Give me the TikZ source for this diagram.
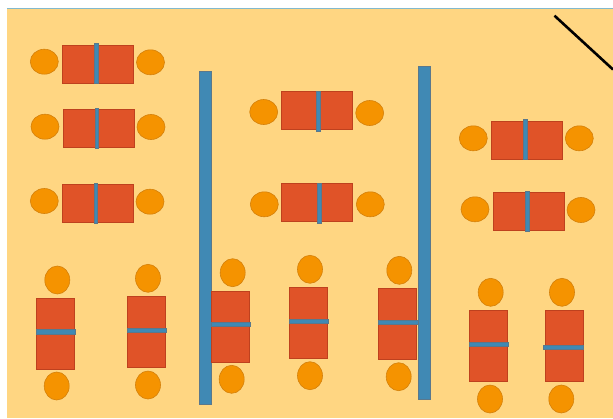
\documentclass[tikz,border=0pt]{standalone}
\usetikzlibrary{shapes.geometric}
\definecolor{bgc}{RGB}{255,214,130}
\definecolor{tablefill}{RGB}{224,83,40}
\definecolor{tableedge}{RGB}{190,65,30}
\definecolor{chairfill}{RGB}{245,147,0}
\definecolor{chairedge}{RGB}{212,128,10}
\definecolor{barfill}{RGB}{64,137,180}
\definecolor{baredge}{RGB}{90,120,140}
\definecolor{topline}{RGB}{130,185,205}
\tikzset{
  tablebox/.style={rectangle, fill=tablefill, draw=tableedge, line width=0.6pt, inner sep=0pt, outer sep=0pt},
  htab/.style={tablebox, minimum width=71pt, minimum height=38pt},
  vtab/.style={tablebox, minimum width=38pt, minimum height=71pt},
  chair/.style={ellipse, fill=chairfill, draw=chairedge, line width=0.6pt, inner sep=0pt, outer sep=0pt},
  hchair/.style={chair, minimum width=28pt, minimum height=25pt},
  vchair/.style={chair, minimum width=25pt, minimum height=28pt},
  divbar/.style={rectangle, fill=barfill, draw=baredge, line width=0.4pt, inner sep=0pt, outer sep=0pt},
  hdiv/.style={divbar, minimum width=3.6pt, minimum height=40pt},
  vdiv/.style={divbar, minimum width=39.5pt, minimum height=4.2pt},
  wallbar/.style={divbar, minimum width=12pt},
}
\begin{document}
\begin{tikzpicture}[x=1pt,y=-1pt]
\useasboundingbox (0,0) rectangle (613,418);
\fill[white] (0,0) rectangle (613,418);
\fill[bgc] (7,8) rectangle (613,418);
\draw[topline, line width=1pt] (7,8.5) -- (613,8.5);
% horizontal tables, left column
\node[htab] (t1) at (97.8,64.2) {};
\node[hdiv] (d1) at (96,63.3) {};
\node[hchair] (c1l) at (44.3,61.7) {};
\node[hchair] (c1r) at (150.5,62.3) {};
\node[htab] (t2) at (98.7,128.5) {};
\node[hdiv] (d2) at (96.5,127.9) {};
\node[hchair] (c2l) at (45,126.7) {};
\node[hchair] (c2r) at (151,127) {};
\node[htab] (t3) at (97.8,203.5) {};
\node[hdiv] (d3) at (95.7,202.7) {};
\node[hchair] (c3l) at (44.3,201) {};
\node[hchair] (c3r) at (150,201.7) {};
% middle column
\node[htab] (t4) at (316.3,110.3) {};
\node[hdiv] (d4) at (318,111.3) {};
\node[hchair] (c4l) at (263.7,112) {};
\node[hchair] (c4r) at (369.7,113) {};
\node[htab] (t5) at (317,202.7) {};
\node[hdiv] (d5) at (319,202.8) {};
\node[hchair] (c5l) at (264.3,204.3) {};
\node[hchair] (c5r) at (370.3,204.3) {};
% right column
\node[htab] (t6) at (526.7,140.2) {};
\node[hdiv] (d6) at (525.2,139.5) {};
\node[hchair] (c6l) at (473.3,138.3) {};
\node[hchair] (c6r) at (579.3,138.3) {};
\node[htab] (t7) at (528.3,211.5) {};
\node[hdiv] (d7) at (527.2,211) {};
\node[hchair] (c7l) at (475,209.3) {};
\node[hchair] (c7r) at (581,210) {};
% walls
\node[wallbar, minimum height=332.4pt] (w1) at (204.7,237.5) {};
\node[wallbar, minimum height=333pt] (w2) at (424,232.5) {};
% vertical tables, bottom row
\node[vtab] (v1) at (55.2,333.8) {};
\node[vdiv] (e1) at (55.8,331.7) {};
\node[vchair] (b1t) at (57.3,280) {};
\node[vchair] (b1b) at (56.7,386) {};
\node[vtab] (v2) at (146.3,332.2) {};
\node[vdiv] (e2) at (146.8,330.2) {};
\node[vchair] (b2t) at (148,278.3) {};
\node[vchair] (b2b) at (148,385) {};
\node[vtab] (v3) at (230.2,326.3) {};
\node[vdiv] (e3) at (230.8,324.5) {};
\node[vchair] (b3t) at (232.7,272.7) {};
\node[vchair] (b3b) at (231.7,379.3) {};
\node[vtab] (v4) at (308.3,323) {};
\node[vdiv] (e4) at (308.5,321.3) {};
\node[vchair] (b4t) at (310,269.3) {};
\node[vchair] (b4b) at (310,375.7) {};
\node[vtab] (v5) at (397,323.8) {};
\node[vdiv] (e5) at (398,322.2) {};
\node[vchair] (b5t) at (399.3,270.3) {};
\node[vchair] (b5b) at (398.7,376.7) {};
\node[vtab] (v6) at (488.3,346.2) {};
\node[vdiv] (e6) at (488.8,344.2) {};
\node[vchair] (b6t) at (490.7,292.3) {};
\node[vchair] (b6b) at (490,399) {};
\node[vtab] (v7) at (563.8,345.3) {};
\node[vdiv] (e7) at (563,347.3) {};
\node[vchair] (b7t) at (562,292.3) {};
\node[vchair] (b7b) at (561.3,399) {};
% diagonal line
\coordinate (p1) at (554.5,15.7);
\coordinate (p2) at (613,69.5);
\draw[black, line width=2.6pt] (p1) -- (p2);
\end{tikzpicture}
\end{document}
